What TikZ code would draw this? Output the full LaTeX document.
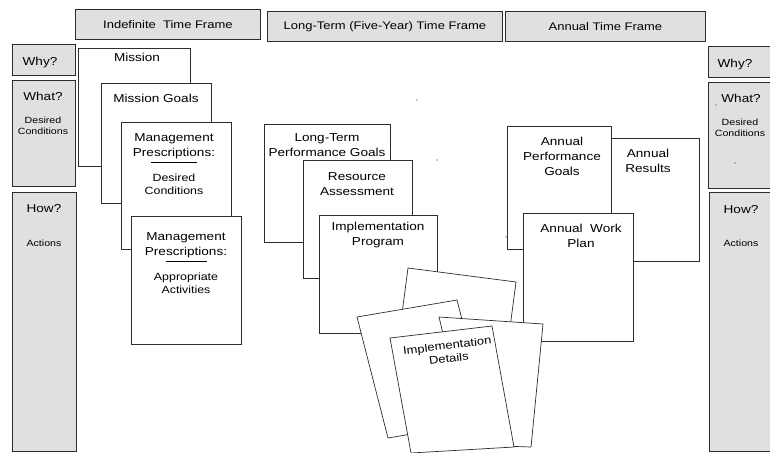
\documentclass[tikz,border=0pt]{standalone}
\usepackage{fontspec}
\setmainfont{Liberation Sans}[FakeStretch=1.18]
\definecolor{painelcor}{RGB}{224,224,227}
\definecolor{traco}{RGB}{45,45,45}
\newcommand\menor{\fontsize{10.5}{12.5}\selectfont}
\newcommand\miudo{\fontsize{9}{10.5}\selectfont}

\begin{document}
\begin{tikzpicture}[x=1pt,y=-1pt,
    caixa/.style={draw=traco, line width=0.8pt, fill=white, anchor=north west, inner sep=0pt},
    painel/.style={draw=traco, line width=0.8pt, fill=painelcor, anchor=north west, inner sep=0pt},
    cabeca/.style={painel, font=\fontsize{11}{13}\selectfont},
    folha/.style={draw=traco, line width=0.7pt, fill=white},
    rotulo/.style={font=\fontsize{11.5}{15}\selectfont, align=center, inner sep=0pt, anchor=north},
    pequeno/.style={font=\miudo, align=center, inner sep=0pt, anchor=north}]
    \useasboundingbox (0,0) rectangle (770,452);

    % Cabecalhos
    \node[cabeca, minimum width=185, minimum height=30] (h-indef) at (75,9) {Indefinite\ \ Time Frame};
    \node[cabeca, minimum width=235, minimum height=30] (h-longo) at (267,11) {Long-Term (Five-Year) Time Frame};
    \node[cabeca, minimum width=200, minimum height=30] (h-anual) at (505,11) {Annual Time Frame};

    % Paineis da esquerda
    \node[painel, minimum width=63, minimum height=31] (esq-why) at (12,44) {};
    \node[painel, minimum width=63, minimum height=106] (esq-what) at (12,80) {};
    \node[painel, minimum width=64, minimum height=259] (esq-how) at (12,192) {};
    \node[rotulo] (t-esq-why) at (40,57) {Why?};
    \node[rotulo] (t-esq-what) at (43,92) {What?};
    \node[pequeno] (t-esq-dc) at (43,117) {Desired\\Conditions};
    \node[rotulo] (t-esq-how) at (44,204) {How?};
    \node[pequeno] (t-esq-act) at (44,240) {Actions};

    % Paineis da direita
    \node[painel, minimum width=70, minimum height=31] (dir-why) at (708,46) {};
    \node[painel, minimum width=70, minimum height=106] (dir-what) at (708,82) {};
    \node[painel, minimum width=70, minimum height=259] (dir-how) at (709,192) {};
    \node[rotulo] (t-dir-why) at (735,59) {Why?};
    \node[rotulo] (t-dir-what) at (741,94) {What?};
    \node[pequeno] (t-dir-dc) at (740,119) {Desired\\Conditions};
    \node[rotulo] (t-dir-how) at (741,205) {How?};
    \node[pequeno] (t-dir-act) at (741,240) {Actions};

    % Prazo indefinido
    \node[caixa, minimum width=112, minimum height=118] (missao) at (78,48) {};
    \node[caixa, minimum width=110, minimum height=120] (metas) at (101,83) {};
    \node[caixa, minimum width=110, minimum height=127] (prescr-dc) at (121,122) {};
    \node[caixa, minimum width=110, minimum height=128] (prescr-aa) at (131,216) {};
    \node[rotulo] (t-missao) at (137,53) {Mission};
    \node[rotulo] (t-metas) at (156,94) {Mission Goals};
    \node[rotulo] (t-prescr-dc) at (174,133) {Management\\Prescriptions:\\[-8pt]\rule{46pt}{0.7pt}\\[3pt]{\menor Desired}\\[-2pt]{\menor Conditions}};
    \node[rotulo] (t-prescr-aa) at (186,232) {Management\\Prescriptions:\\[-8pt]\rule{41pt}{0.7pt}\\[3pt]{\menor Appropriate}\\[-2pt]{\menor Activities}};

    % Prazo longo
    \node[caixa, minimum width=126, minimum height=118] (lp-metas) at (264,124) {};
    \node[caixa, minimum width=109, minimum height=118] (recurso) at (303,160) {};
    \node[caixa, minimum width=118, minimum height=118] (programa) at (319,215) {};
    \node[rotulo] (t-lp-metas) at (327,133) {Long-Term\\Performance Goals};
    \node[rotulo] (t-recurso) at (357,172) {Resource\\Assessment};
    \node[rotulo] (t-programa) at (378,222) {Implementation\\Program};

    % Prazo anual
    \node[caixa, minimum width=99, minimum height=123] (resultados) at (600,138) {};
    \node[caixa, minimum width=104, minimum height=123] (an-metas) at (507,126) {};
    \node[caixa, minimum width=110, minimum height=128] (plano) at (523,213) {};
    \node[rotulo] (t-an-metas) at (562,137) {Annual\\Performance\\Goals};
    \node[rotulo] (t-resultados) at (648,149) {Annual\\Results};
    \node[rotulo] (t-plano) at (581,224) {Annual\ \ Work\\Plan};

    % Folhas soltas
    \filldraw[folha] (408,268) -- (516,282) -- (499,411) -- (391,397) -- cycle;
    \filldraw[folha] (357,317) -- (457,300) -- (488,421) -- (388,438) -- cycle;
    \filldraw[folha] (439,317) -- (543,324) -- (531,447) -- (470,445) -- cycle;
    \filldraw[folha] (390,338) -- (492,326) -- (514,447) -- (411,453) -- cycle;
    \node[rotulo, font=\fontsize{11}{13}\selectfont, anchor=center, rotate=7] (t-detalhes) at (448,352) {Implementation\\Details};

    % Pontos soltos
    \fill[traco] (417,100) circle (0.6) (437,160) circle (0.6) (506,237) circle (0.6)
        (716,105) circle (0.6) (735,163) circle (0.6);
\end{tikzpicture}
\end{document}
